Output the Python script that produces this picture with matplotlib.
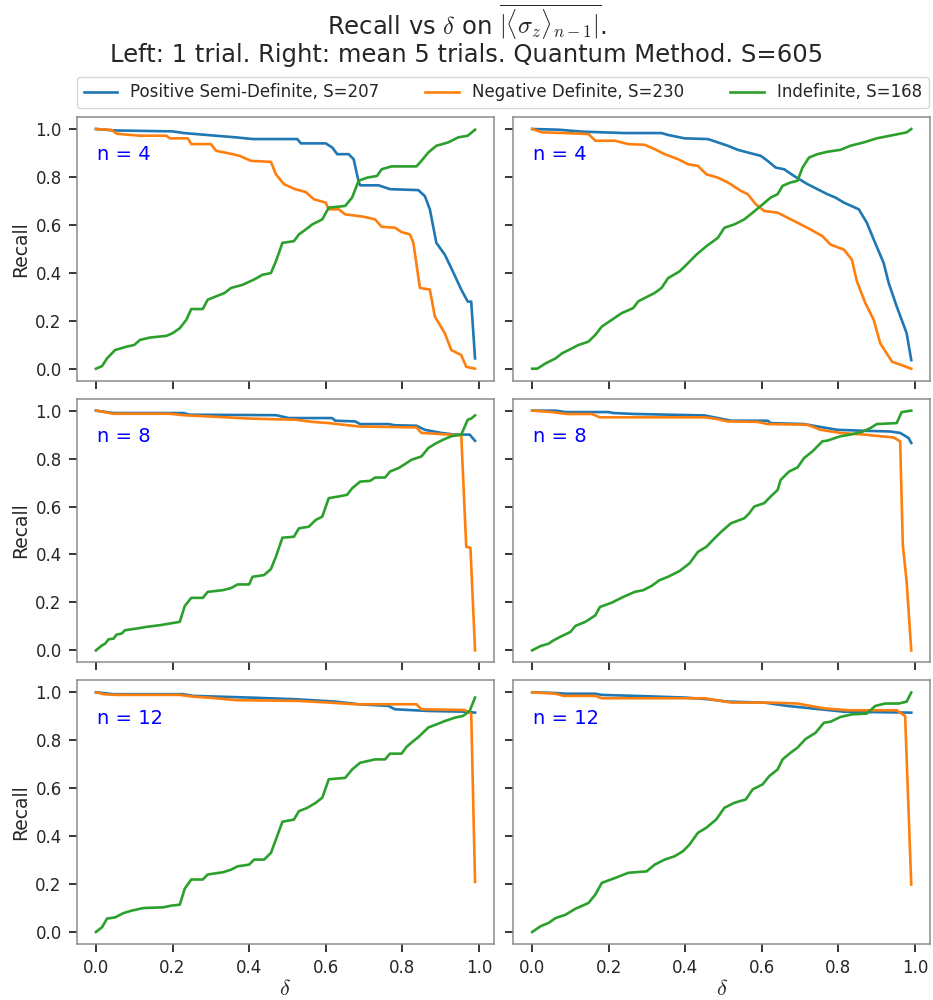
import matplotlib
matplotlib.use("Agg")
import matplotlib.pyplot as plt

plt.rcParams['font.family'] = ['DejaVu Sans']
plt.rcParams['mathtext.fontset'] = 'cm'

# ---------------- data ----------------
labels = ["Positive Semi-Definite, S=207", "Negative Definite, S=230", "Indefinite, S=168"]
colors = ["#1f77b4", "#ff7f0e", "#2ca02c"]
n_values = [4, 8, 12]
xticks = [0.0, 0.2, 0.4, 0.6, 0.8, 1.0]
yticks = [0.0, 0.2, 0.4, 0.6, 0.8, 1.0]

# n=4, 1 trial
tl_psd_x = [0, 0.046, 0.2, 0.23, 0.29, 0.366, 0.41, 0.526, 0.535, 0.6, 0.617, 0.63, 0.66, 0.673, 0.686, 0.69, 0.738, 0.768, 0.842, 0.859, 0.872, 0.889, 0.911, 0.932, 0.954, 0.971, 0.98, 0.99]
tl_psd_y = [1.0, 0.994, 0.99, 0.983, 0.975, 0.965, 0.958, 0.958, 0.94, 0.94, 0.923, 0.895, 0.895, 0.874, 0.78, 0.765, 0.765, 0.749, 0.745, 0.72, 0.665, 0.525, 0.476, 0.406, 0.33, 0.28, 0.28, 0.043]
tl_nd_x = [0, 0.04, 0.055, 0.115, 0.184, 0.193, 0.24, 0.249, 0.3, 0.314, 0.357, 0.375, 0.405, 0.457, 0.47, 0.491, 0.52, 0.548, 0.569, 0.6, 0.608, 0.634, 0.651, 0.699, 0.729, 0.746, 0.781, 0.798, 0.82, 0.829, 0.846, 0.872, 0.885, 0.911, 0.928, 0.954, 0.967, 0.99]
tl_nd_y = [1.0, 0.996, 0.98, 0.972, 0.972, 0.961, 0.961, 0.937, 0.937, 0.909, 0.895, 0.888, 0.867, 0.863, 0.811, 0.77, 0.749, 0.737, 0.707, 0.693, 0.665, 0.665, 0.644, 0.634, 0.623, 0.592, 0.588, 0.57, 0.56, 0.525, 0.337, 0.33, 0.218, 0.148, 0.078, 0.057, 0.008, 0.0]
tl_ind_x = [0, 0.016, 0.029, 0.05, 0.08, 0.10, 0.115, 0.141, 0.184, 0.2, 0.219, 0.236, 0.249, 0.279, 0.292, 0.314, 0.336, 0.353, 0.383, 0.413, 0.435, 0.457, 0.47, 0.487, 0.517, 0.53, 0.548, 0.565, 0.591, 0.608, 0.651, 0.669, 0.686, 0.708, 0.734, 0.746, 0.772, 0.837, 0.85, 0.868, 0.889, 0.92, 0.946, 0.971, 0.99]
tl_ind_y = [0, 0.011, 0.043, 0.078, 0.092, 0.099, 0.12, 0.13, 0.137, 0.148, 0.169, 0.204, 0.249, 0.249, 0.288, 0.302, 0.316, 0.337, 0.35, 0.372, 0.392, 0.399, 0.448, 0.525, 0.532, 0.56, 0.581, 0.602, 0.623, 0.672, 0.679, 0.714, 0.784, 0.797, 0.804, 0.832, 0.844, 0.844, 0.867, 0.902, 0.93, 0.944, 0.965, 0.972, 0.997]

# n=4, mean 5 trials
tr_psd_x = [0, 0.069, 0.13, 0.242, 0.338, 0.355, 0.398, 0.459, 0.485, 0.511, 0.537, 0.563, 0.597, 0.615, 0.636, 0.658, 0.684, 0.719, 0.745, 0.771, 0.792, 0.814, 0.853, 0.874, 0.892, 0.918, 0.931, 0.952, 0.978, 0.99]
tr_psd_y = [1.0, 0.997, 0.989, 0.983, 0.983, 0.975, 0.961, 0.958, 0.944, 0.93, 0.913, 0.902, 0.888, 0.867, 0.839, 0.832, 0.804, 0.77, 0.749, 0.728, 0.714, 0.693, 0.665, 0.609, 0.539, 0.441, 0.358, 0.26, 0.148, 0.036]
tr_nd_x = [0, 0.026, 0.087, 0.147, 0.165, 0.216, 0.251, 0.294, 0.32, 0.346, 0.381, 0.407, 0.433, 0.455, 0.485, 0.511, 0.545, 0.563, 0.584, 0.606, 0.641, 0.667, 0.693, 0.727, 0.758, 0.779, 0.814, 0.835, 0.848, 0.87, 0.892, 0.909, 0.94, 0.965, 0.99]
tr_nd_y = [1.0, 0.986, 0.983, 0.979, 0.951, 0.951, 0.937, 0.934, 0.916, 0.895, 0.874, 0.853, 0.846, 0.811, 0.797, 0.777, 0.742, 0.728, 0.686, 0.658, 0.651, 0.63, 0.609, 0.581, 0.553, 0.518, 0.497, 0.455, 0.365, 0.274, 0.204, 0.106, 0.029, 0.015, 0.0]
tr_ind_x = [0, 0.013, 0.035, 0.061, 0.078, 0.104, 0.121, 0.147, 0.165, 0.182, 0.208, 0.234, 0.264, 0.277, 0.294, 0.32, 0.338, 0.355, 0.385, 0.403, 0.429, 0.455, 0.485, 0.502, 0.528, 0.554, 0.576, 0.597, 0.623, 0.641, 0.654, 0.675, 0.693, 0.706, 0.723, 0.745, 0.771, 0.805, 0.831, 0.866, 0.9, 0.944, 0.978, 0.99]
tr_ind_y = [0, 0.0, 0.022, 0.043, 0.064, 0.085, 0.099, 0.113, 0.141, 0.176, 0.204, 0.232, 0.253, 0.281, 0.295, 0.316, 0.337, 0.378, 0.406, 0.434, 0.476, 0.511, 0.546, 0.588, 0.602, 0.623, 0.651, 0.679, 0.714, 0.728, 0.763, 0.777, 0.784, 0.839, 0.881, 0.895, 0.905, 0.913, 0.93, 0.944, 0.961, 0.975, 0.986, 1.0]

# n=8, 1 trial
ml_psd_x = [0, 0.046, 0.228, 0.245, 0.47, 0.504, 0.617, 0.625, 0.677, 0.69, 0.764, 0.781, 0.837, 0.859, 0.902, 0.937, 0.976, 0.99]
ml_psd_y = [1.0, 0.99, 0.99, 0.983, 0.981, 0.969, 0.969, 0.958, 0.955, 0.944, 0.944, 0.939, 0.937, 0.92, 0.907, 0.9, 0.9, 0.874]
ml_nd_x = [0, 0.046, 0.193, 0.228, 0.34, 0.4, 0.522, 0.565, 0.608, 0.686, 0.837, 0.85, 0.902, 0.954, 0.967, 0.978, 0.99]
ml_nd_y = [1.0, 0.987, 0.987, 0.981, 0.972, 0.967, 0.962, 0.953, 0.948, 0.934, 0.93, 0.907, 0.902, 0.897, 0.432, 0.428, 0.0]
ml_ind_x = [0, 0.016, 0.024, 0.033, 0.046, 0.054, 0.067, 0.076, 0.106, 0.132, 0.167, 0.193, 0.219, 0.232, 0.249, 0.279, 0.292, 0.331, 0.353, 0.37, 0.4, 0.409, 0.439, 0.457, 0.47, 0.487, 0.517, 0.53, 0.556, 0.574, 0.591, 0.608, 0.634, 0.656, 0.669, 0.69, 0.716, 0.729, 0.755, 0.768, 0.79, 0.807, 0.824, 0.85, 0.868, 0.885, 0.907, 0.928, 0.954, 0.971, 0.98, 0.99]
ml_ind_y = [0, 0.021, 0.028, 0.046, 0.049, 0.066, 0.07, 0.084, 0.091, 0.098, 0.105, 0.112, 0.119, 0.185, 0.219, 0.219, 0.244, 0.251, 0.26, 0.275, 0.275, 0.307, 0.314, 0.339, 0.391, 0.47, 0.474, 0.509, 0.516, 0.544, 0.558, 0.635, 0.642, 0.649, 0.676, 0.704, 0.707, 0.721, 0.721, 0.746, 0.76, 0.777, 0.795, 0.809, 0.844, 0.861, 0.879, 0.893, 0.9, 0.962, 0.967, 0.98]

# n=8, mean 5 trials
mr_psd_x = [0, 0.061, 0.087, 0.199, 0.212, 0.268, 0.45, 0.485, 0.519, 0.615, 0.623, 0.71, 0.745, 0.797, 0.866, 0.935, 0.961, 0.983, 0.99]
mr_psd_y = [1.0, 1.0, 0.994, 0.994, 0.99, 0.986, 0.98, 0.969, 0.958, 0.958, 0.948, 0.944, 0.934, 0.92, 0.916, 0.913, 0.907, 0.886, 0.865]
mr_nd_x = [0, 0.052, 0.091, 0.156, 0.177, 0.45, 0.476, 0.511, 0.589, 0.615, 0.719, 0.753, 0.805, 0.866, 0.944, 0.961, 0.968, 0.978, 0.99]
mr_nd_y = [1.0, 0.994, 0.986, 0.986, 0.972, 0.972, 0.967, 0.955, 0.953, 0.944, 0.941, 0.92, 0.907, 0.9, 0.888, 0.872, 0.439, 0.286, 0.0]
mr_ind_x = [0, 0.022, 0.043, 0.056, 0.078, 0.1, 0.113, 0.139, 0.165, 0.177, 0.208, 0.238, 0.268, 0.29, 0.312, 0.333, 0.355, 0.385, 0.411, 0.433, 0.455, 0.476, 0.494, 0.519, 0.554, 0.567, 0.58, 0.606, 0.623, 0.641, 0.649, 0.671, 0.693, 0.71, 0.732, 0.758, 0.771, 0.805, 0.831, 0.861, 0.883, 0.9, 0.952, 0.965, 0.99]
mr_ind_y = [0, 0.018, 0.028, 0.042, 0.06, 0.077, 0.102, 0.119, 0.146, 0.181, 0.199, 0.223, 0.244, 0.251, 0.269, 0.293, 0.307, 0.331, 0.363, 0.411, 0.432, 0.467, 0.495, 0.53, 0.551, 0.572, 0.6, 0.614, 0.642, 0.669, 0.711, 0.746, 0.763, 0.802, 0.83, 0.872, 0.875, 0.893, 0.9, 0.911, 0.927, 0.944, 0.948, 0.994, 1.0]

# n=12, 1 trial
bl_psd_x = [0, 0.046, 0.228, 0.253, 0.4, 0.522, 0.625, 0.686, 0.764, 0.781, 0.868, 0.963, 0.99]
bl_psd_y = [1.0, 0.992, 0.992, 0.985, 0.978, 0.971, 0.961, 0.95, 0.943, 0.929, 0.922, 0.919, 0.915]
bl_nd_x = [0, 0.02, 0.054, 0.219, 0.253, 0.314, 0.366, 0.53, 0.608, 0.677, 0.837, 0.85, 0.963, 0.98, 0.99]
bl_nd_y = [1.0, 0.992, 0.989, 0.989, 0.982, 0.975, 0.967, 0.964, 0.957, 0.95, 0.95, 0.929, 0.926, 0.911, 0.209]
bl_ind_x = [0, 0.016, 0.029, 0.05, 0.072, 0.093, 0.124, 0.176, 0.197, 0.219, 0.232, 0.249, 0.279, 0.292, 0.331, 0.353, 0.37, 0.4, 0.413, 0.439, 0.457, 0.47, 0.487, 0.517, 0.53, 0.552, 0.574, 0.591, 0.608, 0.651, 0.669, 0.69, 0.729, 0.755, 0.768, 0.798, 0.811, 0.824, 0.842, 0.868, 0.889, 0.911, 0.937, 0.958, 0.976, 0.99]
bl_ind_y = [0, 0.02, 0.056, 0.061, 0.079, 0.089, 0.1, 0.103, 0.11, 0.114, 0.181, 0.219, 0.219, 0.24, 0.249, 0.26, 0.274, 0.281, 0.302, 0.302, 0.33, 0.386, 0.46, 0.469, 0.504, 0.518, 0.539, 0.56, 0.637, 0.643, 0.678, 0.706, 0.72, 0.72, 0.744, 0.744, 0.772, 0.79, 0.813, 0.853, 0.866, 0.88, 0.894, 0.901, 0.922, 0.978]

# n=12, mean 5 trials
br_psd_x = [0, 0.061, 0.087, 0.165, 0.182, 0.268, 0.398, 0.459, 0.511, 0.606, 0.667, 0.753, 0.814, 0.99]
br_psd_y = [1.0, 0.997, 0.994, 0.994, 0.989, 0.985, 0.978, 0.971, 0.961, 0.957, 0.943, 0.929, 0.919, 0.915]
br_nd_x = [0, 0.061, 0.082, 0.165, 0.182, 0.45, 0.494, 0.519, 0.62, 0.693, 0.762, 0.823, 0.952, 0.974, 0.99]
br_nd_y = [1.0, 0.994, 0.985, 0.985, 0.975, 0.975, 0.964, 0.957, 0.957, 0.953, 0.933, 0.925, 0.925, 0.901, 0.198]
br_ind_x = [0, 0.022, 0.043, 0.061, 0.087, 0.113, 0.147, 0.165, 0.182, 0.221, 0.251, 0.299, 0.32, 0.346, 0.372, 0.394, 0.411, 0.433, 0.455, 0.481, 0.502, 0.528, 0.558, 0.576, 0.602, 0.619, 0.641, 0.654, 0.675, 0.693, 0.714, 0.74, 0.762, 0.779, 0.805, 0.835, 0.874, 0.896, 0.922, 0.957, 0.978, 0.99]
br_ind_y = [0, 0.024, 0.038, 0.058, 0.072, 0.097, 0.121, 0.156, 0.205, 0.228, 0.247, 0.253, 0.281, 0.302, 0.316, 0.337, 0.365, 0.414, 0.435, 0.47, 0.518, 0.539, 0.553, 0.595, 0.616, 0.65, 0.678, 0.72, 0.748, 0.769, 0.805, 0.831, 0.873, 0.877, 0.897, 0.908, 0.911, 0.943, 0.953, 0.953, 0.961, 0.999]

panels = [
    [[(tl_psd_x, tl_psd_y), (tl_nd_x, tl_nd_y), (tl_ind_x, tl_ind_y)],
     [(tr_psd_x, tr_psd_y), (tr_nd_x, tr_nd_y), (tr_ind_x, tr_ind_y)]],
    [[(ml_psd_x, ml_psd_y), (ml_nd_x, ml_nd_y), (ml_ind_x, ml_ind_y)],
     [(mr_psd_x, mr_psd_y), (mr_nd_x, mr_nd_y), (mr_ind_x, mr_ind_y)]],
    [[(bl_psd_x, bl_psd_y), (bl_nd_x, bl_nd_y), (bl_ind_x, bl_ind_y)],
     [(br_psd_x, br_psd_y), (br_nd_x, br_nd_y), (br_ind_x, br_ind_y)]],
]

# ---------------- figure ----------------
text_color = '#262626'
fig, axes = plt.subplots(3, 2, figsize=(9.33, 10.0), dpi=100, sharex=True, sharey=True)
fig.subplots_adjust(left=0.0825, right=0.997, bottom=0.056, top=0.883, wspace=0.046, hspace=0.068)

for r in range(3):
    for c in range(2):
        ax = axes[r][c]
        for (xs, ys), col, lab in zip(panels[r][c], colors, labels):
            ax.plot(xs, ys, color=col, lw=1.9, label=lab)
        ax.text(0.048, 0.856, f"n = {n_values[r]}", transform=ax.transAxes,
                color='blue', fontsize=14, va='center', ha='left')
        for sp in ax.spines.values():
            sp.set_color('#8c8c8c')
            sp.set_linewidth(1.1)
        ax.tick_params(direction='out', length=6, width=1.3, color='#262626',
                       labelsize=12, labelcolor=text_color, pad=5)
        if c == 0:
            ax.set_ylabel("Recall", fontsize=13.5, color=text_color)
        if r == 2:
            ax.set_xlabel(r"$\delta$", fontsize=16, color=text_color, labelpad=1)

axes[0][0].set_xticks(xticks)
axes[0][0].set_yticks(yticks)
axes[0][0].set_xlim(-0.0495, 1.0395)
axes[0][0].set_ylim(-0.05, 1.05)

handles, labs = axes[0][0].get_legend_handles_labels()
leg = fig.legend(handles, labs, loc='lower left', ncol=3, mode='expand',
                 bbox_to_anchor=(0.0825, 0.892, 0.913, 0.03), fontsize=12,
                 frameon=True, fancybox=True, borderaxespad=0.0, handlelength=2.0)
leg.get_frame().set_edgecolor('#cccccc')
for t in leg.get_texts():
    t.set_color(text_color)

fig.suptitle("Recall vs $\\delta$ on $\\overline{|\\langle\\sigma_z\\rangle_{n-1}|}$.\n"
             "Left: 1 trial. Right: mean 5 trials. Quantum Method. S=605",
             fontsize=17.5, y=0.998, va='top', color=text_color, linespacing=1.1)

fig.savefig("out.png", dpi=100)
